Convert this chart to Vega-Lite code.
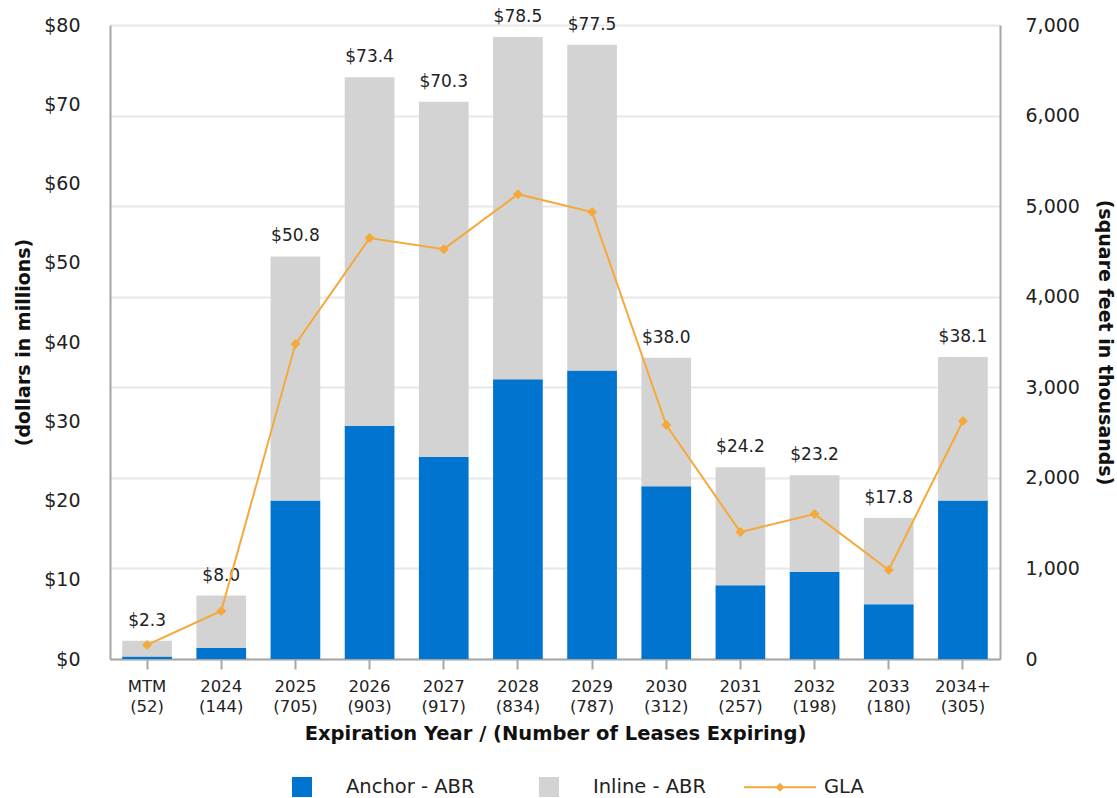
{
  "$schema": "https://vega.github.io/schema/vega-lite/v6.json",
  "width": 890,
  "height": 634,
  "autosize": {"type": "none"},
  "padding": {"left": 110, "top": 25, "right": 117, "bottom": 139},
  "background": "white",
  "config": {
    "view": {"stroke": null},
    "font": "DejaVu Sans",
    "axis": {"labelFont": "DejaVu Sans", "titleFont": "DejaVu Sans", "labelColor": "#222222", "titleColor": "#111111", "domainColor": "#a6a6a6", "domainWidth": 2, "tickColor": "#a6a6a6", "tickWidth": 2},
    "legend": {"labelFont": "DejaVu Sans"}
  },
  "datasets": {
    "bars": [
      {"cat": "MTM (52)", "series": "Anchor - ABR", "value": 0.3},
      {"cat": "MTM (52)", "series": "Inline - ABR", "value": 2.0},
      {"cat": "2024 (144)", "series": "Anchor - ABR", "value": 1.4},
      {"cat": "2024 (144)", "series": "Inline - ABR", "value": 6.6},
      {"cat": "2025 (705)", "series": "Anchor - ABR", "value": 20.0},
      {"cat": "2025 (705)", "series": "Inline - ABR", "value": 30.8},
      {"cat": "2026 (903)", "series": "Anchor - ABR", "value": 29.4},
      {"cat": "2026 (903)", "series": "Inline - ABR", "value": 44.0},
      {"cat": "2027 (917)", "series": "Anchor - ABR", "value": 25.5},
      {"cat": "2027 (917)", "series": "Inline - ABR", "value": 44.8},
      {"cat": "2028 (834)", "series": "Anchor - ABR", "value": 35.3},
      {"cat": "2028 (834)", "series": "Inline - ABR", "value": 43.2},
      {"cat": "2029 (787)", "series": "Anchor - ABR", "value": 36.4},
      {"cat": "2029 (787)", "series": "Inline - ABR", "value": 41.1},
      {"cat": "2030 (312)", "series": "Anchor - ABR", "value": 21.8},
      {"cat": "2030 (312)", "series": "Inline - ABR", "value": 16.2},
      {"cat": "2031 (257)", "series": "Anchor - ABR", "value": 9.3},
      {"cat": "2031 (257)", "series": "Inline - ABR", "value": 14.9},
      {"cat": "2032 (198)", "series": "Anchor - ABR", "value": 11.0},
      {"cat": "2032 (198)", "series": "Inline - ABR", "value": 12.2},
      {"cat": "2033 (180)", "series": "Anchor - ABR", "value": 6.9},
      {"cat": "2033 (180)", "series": "Inline - ABR", "value": 10.9},
      {"cat": "2034+ (305)", "series": "Anchor - ABR", "value": 20.0},
      {"cat": "2034+ (305)", "series": "Inline - ABR", "value": 18.1}
    ],
    "years": [
      {"cat": "MTM (52)", "total": 2.3, "gla": 155},
      {"cat": "2024 (144)", "total": 8.0, "gla": 530},
      {"cat": "2025 (705)", "total": 50.8, "gla": 3477},
      {"cat": "2026 (903)", "total": 73.4, "gla": 4647},
      {"cat": "2027 (917)", "total": 70.3, "gla": 4525},
      {"cat": "2028 (834)", "total": 78.5, "gla": 5132},
      {"cat": "2029 (787)", "total": 77.5, "gla": 4934},
      {"cat": "2030 (312)", "total": 38.0, "gla": 2583},
      {"cat": "2031 (257)", "total": 24.2, "gla": 1402},
      {"cat": "2032 (198)", "total": 23.2, "gla": 1600},
      {"cat": "2033 (180)", "total": 17.8, "gla": 982},
      {"cat": "2034+ (305)", "total": 38.1, "gla": 2627}
    ]
  },
  "encoding": {
    "x": {
      "field": "cat",
      "type": "nominal",
      "sort": null,
      "scale": {"paddingInner": 0.33, "paddingOuter": 0.165},
      "axis": {
        "title": "Expiration Year / (Number of Leases Expiring)",
        "titleFontSize": 19.5,
        "titleFontWeight": "bold",
        "titlePadding": 10,
        "labelAngle": 0,
        "labelFontSize": 16.5,
        "labelLineHeight": 20,
        "labelExpr": "split(datum.label, ' ')",
        "tickSize": 10,
        "labelPadding": 9,
        "grid": false
      }
    }
  },
  "layer": [
    {
      "layer": [
        {
          "data": {"name": "bars"},
          "mark": {"type": "bar"},
          "encoding": {
            "y": {
              "field": "value",
              "type": "quantitative",
              "stack": "zero",
              "scale": {"domain": [0, 80]},
              "axis": {
                "title": "(dollars in millions)",
                "titleFontSize": 19,
                "titleFontWeight": "bold",
                "titlePadding": 10,
                "labelFontSize": 19,
                "labelPadding": 30,
                "ticks": false,
                "grid": false,
                "values": [0, 10, 20, 30, 40, 50, 60, 70, 80],
                "labelExpr": "'$' + datum.value"
              }
            },
            "color": {
              "field": "series",
              "type": "nominal",
              "scale": {"domain": ["Anchor - ABR", "Inline - ABR", "GLA"], "range": ["#0074CF", "#D3D3D3", "#F5A93B"]},
              "legend": {
                "title": null,
                "orient": "none",
                "legendX": 182,
                "legendY": 752,
                "direction": "horizontal",
                "padding": 0,
                "symbolSize": 400,
                "symbolStrokeWidth": 0,
                "labelFontSize": 19.5,
                "labelColor": "#222222",
                "labelOffset": 34,
                "columnPadding": 37,
                "encode": {
                  "symbols": {
                    "update": {
                      "shape": {"signal": "datum.value == 'GLA' ? 'M-3.6,-0.1H3.6V0.1H-3.6Z M0,-0.45L0.45,0L0,0.45L-0.45,0Z' : (datum.value == 'Inline - ABR' ? 'M-3.7,0L-3.7,0M-1,-1H1V1H-1Z' : 'square')"},
                      "fill": {"signal": "scale('color', datum.value)"},
                      "stroke": {"value": "transparent"}
                    }
                  }
                }
              }
            },
            "order": {"field": "series", "sort": "ascending"}
          }
        },
        {
          "data": {"name": "years"},
          "mark": {"type": "text", "baseline": "bottom", "dy": -11, "fontSize": 17, "color": "#222222"},
          "encoding": {
            "y": {"field": "total", "type": "quantitative"},
            "text": {"field": "total", "type": "quantitative", "format": "$.1f"}
          }
        }
      ]
    },
    {
      "data": {"name": "years"},
      "mark": {"type": "line", "strokeWidth": 2, "point": {"shape": "diamond", "filled": true, "size": 100}},
      "encoding": {
        "y": {
          "field": "gla",
          "type": "quantitative",
          "scale": {"domain": [0, 7000]},
          "axis": {
            "orient": "right",
            "title": "(square feet in thousands)",
            "titleFontSize": 19,
            "titleFontWeight": "bold",
            "titlePadding": 15,
            "labelFontSize": 19,
            "labelPadding": 25,
            "ticks": false,
            "grid": true,
            "gridColor": "#e8e8e8",
            "gridWidth": 2,
            "values": [0, 1000, 2000, 3000, 4000, 5000, 6000, 7000],
            "format": ",.0f"
          }
        },
        "color": {"datum": "GLA"}
      }
    }
  ],
  "resolve": {"scale": {"y": "independent"}}
}
